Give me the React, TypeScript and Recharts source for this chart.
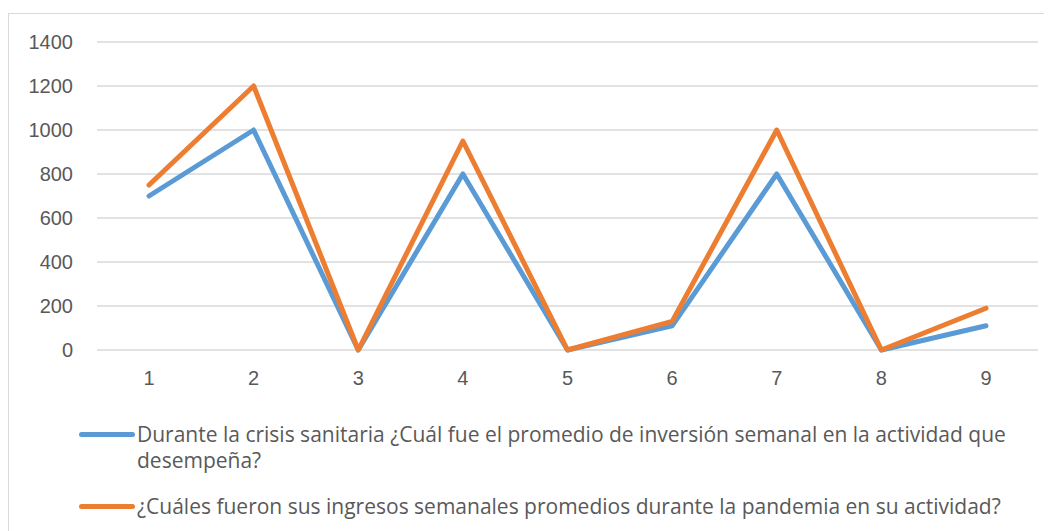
import { LineChart, Line, XAxis, YAxis, CartesianGrid, Legend } from "recharts";

const categories = ["1", "2", "3", "4", "5", "6", "7", "8", "9"];
const inversion = [700, 1000, 0, 800, 0, 110, 800, 0, 110];
const ingresos = [750, 1200, 0, 950, 0, 130, 1000, 0, 190];
const yTicks = [0, 200, 400, 600, 800, 1000, 1200, 1400];

const SERIES = [
  {
    key: "inversion",
    color: "#5B9BD5",
    label: "Durante la crisis sanitaria ¿Cuál fue el promedio de inversión semanal en la actividad que",
    label2: "desempeña?",
  },
  {
    key: "ingresos",
    color: "#ED7D31",
    label: "¿Cuáles fueron sus ingresos semanales promedios durante la pandemia en su actividad?",
    label2: "",
  },
];

const data = categories.map((c, i) => ({
  cat: c,
  inversion: inversion[i],
  ingresos: ingresos[i],
}));

const FONT = "'Liberation Sans', Arial, sans-serif";
const LEGEND_FONT = "'Open Sans', sans-serif";
const TEXT = "#595959";

function LegendBox() {
  return (
    <div style={{ position: "relative", width: 1040, height: 151, fontFamily: LEGEND_FONT, color: TEXT }}>
      {SERIES.map((s, i) => (
        <div
          key={s.key}
          style={{
            position: "absolute",
            left: 70,
            top: i === 0 ? 41 : 113,
            display: "flex",
            alignItems: "flex-start",
            fontSize: 21,
            lineHeight: "26px",
            whiteSpace: "nowrap",
          }}
        >
          <span
            style={{
              display: "inline-block",
              width: 56,
              height: 5,
              borderRadius: 3,
              background: s.color,
              marginTop: 11,
              marginRight: 2,
            }}
          />
          <span style={{ textAlign: "left" }}>
            {s.label}
            {s.label2 ? <br /> : null}
            {s.label2}
          </span>
        </div>
      ))}
    </div>
  );
}

export default function App() {
  return (
    <div
      style={{
        marginTop: 5,
        width: 1040,
        height: 518,
        borderTop: "1px solid #D9D9D9",
        borderLeft: "1px solid #D9D9D9",
        boxSizing: "border-box",
        background: "#fff",
      }}
    >
      <LineChart
        width={1039}
        height={517}
        data={data}
        margin={{ top: 28, right: 10, left: 0, bottom: 0 }}
      >
        <CartesianGrid vertical={false} stroke="#D9D9D9" strokeWidth={1.3} />
        <XAxis
          dataKey="cat"
          axisLine={false}
          tickLine={false}
          tickSize={0}
          tickMargin={21}
          height={30}
          padding={{ left: 52, right: 52 }}
          tick={{ fill: TEXT, fontSize: 20, fontFamily: FONT }}
        />
        <YAxis
          domain={[0, 1400]}
          ticks={yTicks}
          axisLine={false}
          tickLine={false}
          tickSize={0}
          tickMargin={24}
          width={88}
          tick={{ fill: TEXT, fontSize: 20, fontFamily: FONT }}
        />
        <Legend
          verticalAlign="bottom"
          align="left"
          wrapperStyle={{ left: 0, width: 1039 }}
          content={() => <LegendBox />}
        />
        {SERIES.map((s) => (
          <Line
            key={s.key}
            type="linear"
            dataKey={s.key}
            stroke={s.color}
            strokeWidth={5}
            strokeLinecap="round"
            strokeLinejoin="round"
            dot={false}
            activeDot={false}
            isAnimationActive={false}
          />
        ))}
      </LineChart>
    </div>
  );
}
